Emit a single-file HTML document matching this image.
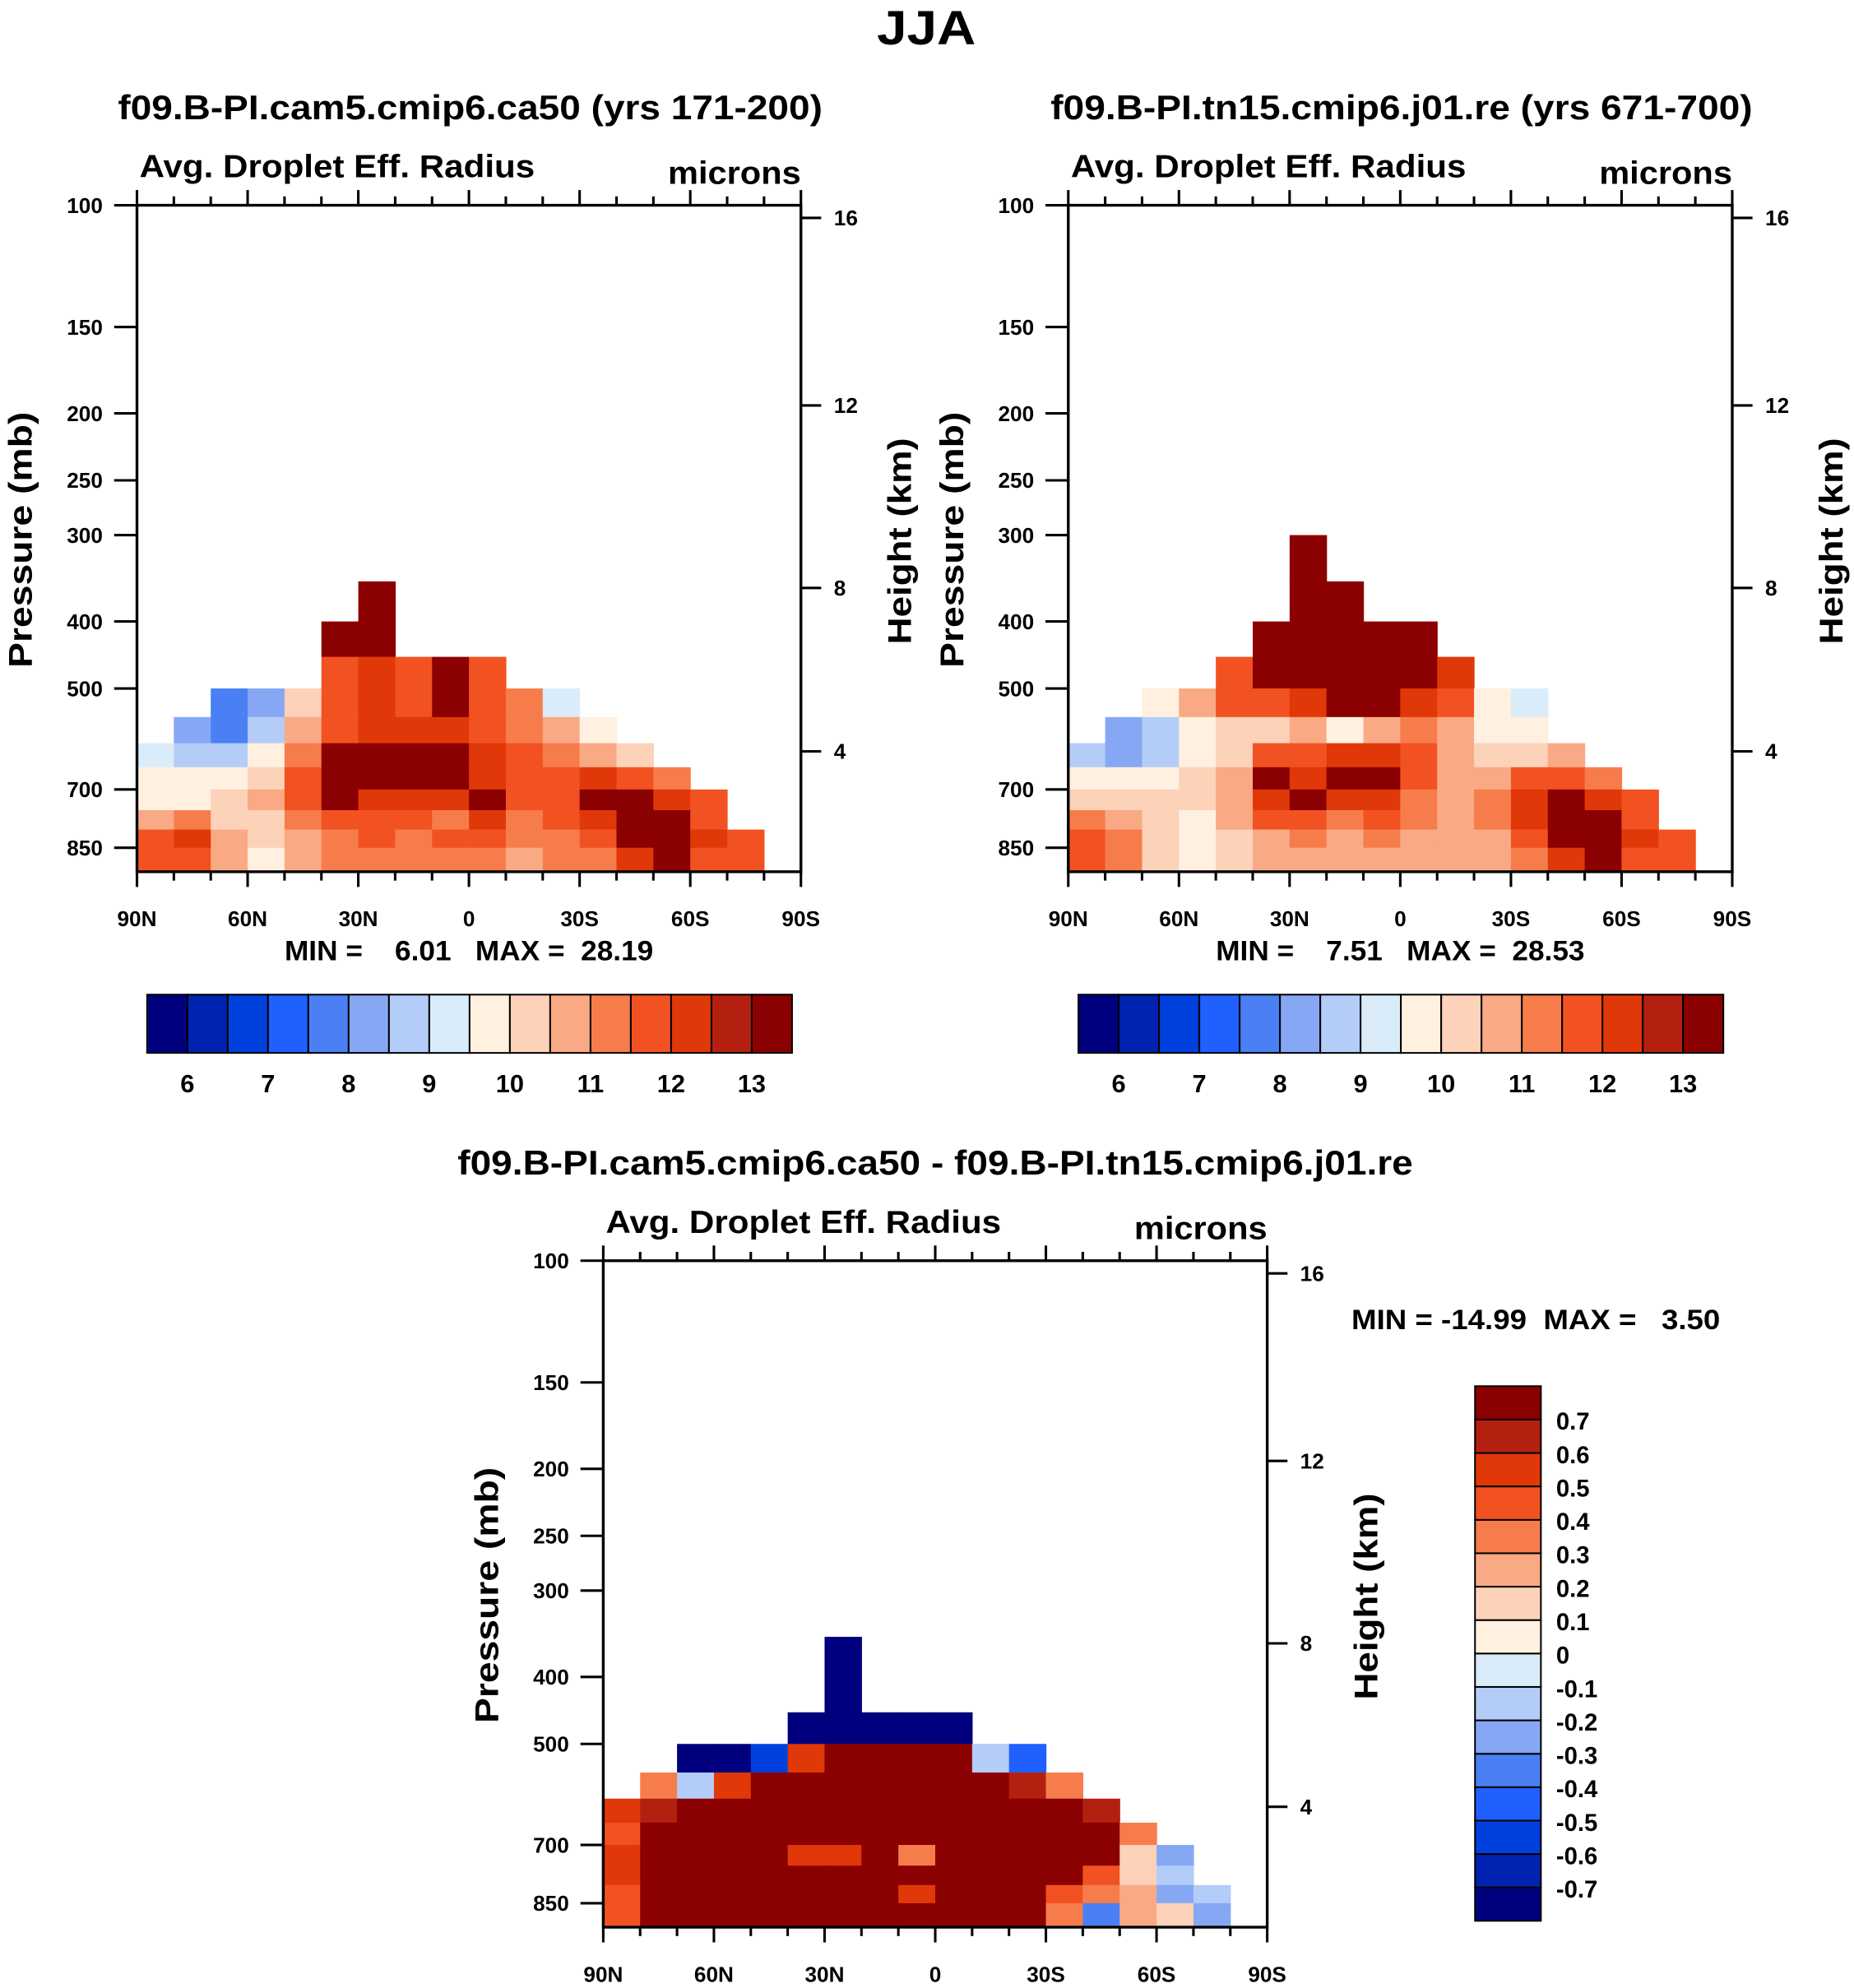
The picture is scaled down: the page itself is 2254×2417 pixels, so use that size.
<!DOCTYPE html>
<html><head><meta charset="utf-8"><style>
html,body{margin:0;padding:0;background:#fff}
svg{display:block}
text{font-family:"Liberation Sans",Arial,sans-serif;font-weight:bold;fill:#000;white-space:pre}
</style></head>
<body>
<svg id="fig" width="2254" height="2417" viewBox="0 0 1463 1569" xmlns="http://www.w3.org/2000/svg">
<rect width="1463" height="1569" fill="#fff"/>
<text x="731" y="35" font-size="38" text-anchor="middle" textLength="78" lengthAdjust="spacingAndGlyphs">JJA</text>
</svg>
<script>
// ---- data ----
const pressureEdges = [300,350,400,450,500,550,600,650,700,750,800,850,922];
const latEdges = [90,80,70,60,50,40,30,20,10,0,-10,-20,-30,-40,-50,-60,-70,-80,-90];
const pressureTicks = [100,150,200,250,300,400,500,700,850];
const heightTicks = [16,12,8,4];
const heightTickY = [172,320,464,593];
const latTicks = [90,60,30,0,-30,-60,-90];
const latTickLabels = ["90N","60N","30N","0","30S","60S","90S"];
const absLevelLabels = ["6","7","8","9","10","11","12","13"];
const absLevels = [6,6.5,7,7.5,8,8.5,9,9.5,10,10.5,11,11.5,12,12.5,13];
const diffLevels = [-0.7,-0.6,-0.5,-0.4,-0.3,-0.2,-0.1,0,0.1,0.2,0.3,0.4,0.5,0.6,0.7];
const diffLevelLabels = ["-0.7","-0.6","-0.5","-0.4","-0.3","-0.2","-0.1","0","0.1","0.2","0.3","0.4","0.5","0.6","0.7"];
const palette = ["#00007f","#0022b0","#0040dc","#2060ff","#4a80f4","#86a8f4","#b4ccf8","#daecfa","#fff0e0","#fcd2b8","#f9aa84","#f77c4c","#f25222","#e03808","#b42010","#8b0000"];
const N=null;
const field1 = [
[N,N,N,N,N,N,N,N,N,N,N,N,N,N,N,N,N,N],
[N,N,N,N,N,N,13.5,N,N,N,N,N,N,N,N,N,N,N],
[N,N,N,N,N,13.5,13.5,N,N,N,N,N,N,N,N,N,N,N],
[N,N,N,N,N,11.7,12.2,11.7,13.5,11.7,N,N,N,N,N,N,N,N],
[N,N,7.7,8.2,10.2,11.7,12.2,11.7,13.5,11.7,11.2,9.2,N,N,N,N,N,N],
[N,8.2,7.7,8.7,10.7,11.7,12.2,12.2,12.2,11.7,11.2,10.7,9.7,N,N,N,N,N],
[9.2,8.7,8.7,9.7,11.2,13.5,13.5,13.5,13.5,12.2,11.7,11.2,10.7,10.2,N,N,N,N],
[9.7,9.7,9.7,10.2,11.7,13.5,13.5,13.5,13.5,12.2,11.7,11.7,12.2,11.7,11.2,N,N,N],
[9.7,9.7,10.2,10.7,11.7,13.5,12.2,12.2,12.2,13.5,11.7,11.7,13.5,13.5,12.2,11.7,N,N],
[10.7,11.2,10.2,10.2,11.2,11.7,11.7,11.7,11.2,12.2,11.2,11.7,12.2,13.5,13.5,11.7,N,N],
[11.7,12.2,10.7,10.2,10.7,11.2,11.7,11.2,11.7,11.7,11.2,11.2,11.7,13.5,13.5,12.2,11.7,N],
[11.7,11.7,10.7,9.7,10.7,11.2,11.2,11.2,11.2,11.2,10.7,11.2,11.2,12.2,13.5,11.7,11.7,N]
];
const field2 = [
[N,N,N,N,N,N,13.5,N,N,N,N,N,N,N,N,N,N,N],
[N,N,N,N,N,N,13.5,13.5,N,N,N,N,N,N,N,N,N,N],
[N,N,N,N,N,13.5,13.5,13.5,13.5,13.5,N,N,N,N,N,N,N,N],
[N,N,N,N,11.7,13.5,13.5,13.5,13.5,13.5,12.2,N,N,N,N,N,N,N],
[N,N,9.7,10.7,11.7,11.7,12.2,13.5,13.5,12.2,11.7,9.7,9.2,N,N,N,N,N],
[N,8.2,8.7,9.7,10.2,10.2,10.7,9.7,10.7,11.2,10.7,9.7,9.7,N,N,N,N,N],
[8.7,8.2,8.7,9.7,10.2,11.7,11.7,12.2,12.2,11.7,10.7,10.2,10.2,10.7,N,N,N,N],
[9.7,9.7,9.7,10.2,10.7,13.5,12.2,13.5,13.5,11.7,10.7,10.7,11.7,11.7,11.2,N,N,N],
[10.2,10.2,10.2,10.2,10.7,12.2,13.5,12.2,12.2,11.2,10.7,11.2,12.2,13.5,12.2,11.7,N,N],
[11.2,10.7,10.2,9.7,10.7,11.7,11.7,11.2,11.7,11.2,10.7,11.2,12.2,13.5,13.5,11.7,N,N],
[11.7,11.2,10.2,9.7,10.2,10.7,11.2,10.7,11.2,10.7,10.7,10.7,11.7,13.5,13.5,12.2,11.7,N],
[11.7,11.2,10.2,9.7,10.2,10.7,10.7,10.7,10.7,10.7,10.7,10.7,11.2,12.2,13.5,11.7,11.7,N]
];
const field3 = [
[N,N,N,N,N,N,N,N,N,N,N,N,N,N,N,N,N,N],
[N,N,N,N,N,N,-1,N,N,N,N,N,N,N,N,N,N,N],
[N,N,N,N,N,N,-1,N,N,N,N,N,N,N,N,N,N,N],
[N,N,N,N,N,-1,-1,-1,-1,-1,N,N,N,N,N,N,N,N],
[N,N,-1,-1,-0.6,0.5,0.8,1,1,0.8,-0.2,-0.5,N,N,N,N,N,N],
[N,0.3,-0.2,0.5,1,1,1,1,1,1,1,0.6,0.3,N,N,N,N,N],
[0.5,0.6,0.8,1,1,1,1,1,1,1,1,1,1,0.6,N,N,N,N],
[0.4,0.7,1,1,1,1,1,1,1,1,1,1,1,1,0.3,N,N,N],
[0.5,0.8,1,1,0.8,0.5,0.5,1,0.3,0.8,1,1,1,0.7,0.1,-0.3,N,N],
[0.5,0.8,1,0.8,0.7,1,0.7,0.8,0.8,0.7,1,1,0.7,0.4,0.1,-0.2,N,N],
[0.4,0.8,1,0.7,0.7,1,0.8,0.7,0.5,0.8,0.8,1,0.4,0.3,0.2,-0.3,-0.2,N],
[0.4,0.8,1,0.8,0.7,1,0.8,0.7,0.8,0.7,0.8,0.7,0.3,-0.4,0.2,0.1,-0.3,N]
];
// ---- drawing ----
const svg=document.getElementById('fig');
const NS="http://www.w3.org/2000/svg";
function mk(tag,attrs,parent){const e=document.createElementNS(NS,tag);for(const k in attrs)e.setAttribute(k,attrs[k]);(parent||svg).appendChild(e);return e;}
function txt(x,y,s,size,anchor,parent,len){const a={x:x,y:y,'font-size':size,'text-anchor':anchor||'middle'};if(len){a.textLength=len;a.lengthAdjust='spacingAndGlyphs';}const t=mk('text',a,parent);t.textContent=s;return t;}
function colorIndex(v,levels){let i=0;for(const l of levels){if(v>=l-1e-9)i++;}return i;}

function panel(ox,oy,field,levels,name){
  const W=524,H=526,top=oy,left=ox;
  const xs=lat=>left+(90-lat)/180*W;
  const ys=p=>top+Math.log10(p/100)*545.6;
  const g=mk('g',{});
  
  
  for(let r=0;r<field.length;r++){for(let c=0;c<field[r].length;c++){
    const v=field[r][c]; if(v===null) continue;
    const x0=xs(latEdges[c]),x1=xs(latEdges[c+1]),y0=ys(pressureEdges[r]),y1=Math.min(ys(pressureEdges[r+1]),top+H);
    const rc=mk('rect',{x:x0,y:y0,width:x1-x0+0.4,height:y1-y0+0.4,fill:palette[colorIndex(v,levels)]},g);
    
    
  }}
  const box=mk('rect',{x:left,y:top,width:W,height:H,fill:'none',stroke:'#000','stroke-width':2.2},g);
  
  
  pressureTicks.forEach(p=>{const y=ys(p);
    mk('line',{x1:left-18,x2:left,y1:y,y2:y,stroke:'#000','stroke-width':2},g);
    const t=txt(left-27,y+6,String(p),17,'end',g);
    
    
  });
  heightTicks.forEach((h,i)=>{const y=top+heightTickY[i]-162;
    mk('line',{x1:left+W,x2:left+W+16,y1:y,y2:y,stroke:'#000','stroke-width':2},g);
    const t=txt(left+W+26,y+6,String(h),17,'start',g);
    
    
  });
  for(let lat=90;lat>=-90;lat-=10){const x=xs(lat);const major=lat%30===0;
    mk('line',{x1:x,x2:x,y1:top,y2:top-(major?12:7),stroke:'#000','stroke-width':2},g);
    mk('line',{x1:x,x2:x,y1:top+H,y2:top+H+(major?12:7),stroke:'#000','stroke-width':2},g);
  }
  latTicks.forEach((lat,i)=>{const t=txt(xs(lat),top+H+43,latTickLabels[i],17,'middle',g);
    
    });
  const a=txt(left+2,top-22,'Avg. Droplet Eff. Radius',25,'start',g,312);
  
  
  const m=txt(left+W,top-17,'microns',25,'end',g,105);
  
  
  const py=mk('text',{x:0,y:0,'font-size':26,'text-anchor':'middle',textLength:202,lengthAdjust:'spacingAndGlyphs',transform:`translate(${left-83},${top+264}) rotate(-90)`},g);
  py.textContent='Pressure (mb)';
  
  
  const hy=mk('text',{x:0,y:0,'font-size':26,'text-anchor':'middle',textLength:163,lengthAdjust:'spacingAndGlyphs',transform:`translate(${left+W+87},${top+265}) rotate(-90)`},g);
  hy.textContent='Height (km)';
  
  
}
function hbar(x,y,name){
  const g=mk('g',{});
  
  
  const bw=509/16;
  palette.forEach((c,i)=>{const r=mk('rect',{x:x+i*bw,y:y,width:bw,height:46,fill:c,stroke:'#000','stroke-width':1.3},g);
    
    });
  absLevelLabels.forEach((s,i)=>{const t=txt(x+(1+2*i)*bw,y+77,s,20,'middle',g);
    
    });
}
function vbar(x,y){
  const g=mk('g',{});
  
  
  const bh=422/16;
  palette.forEach((c,i)=>{const r=mk('rect',{x:x,y:y+(15-i)*bh,width:52,height:bh,fill:c,stroke:'#000','stroke-width':1.3},g);
    
    });
  diffLevelLabels.forEach((s,i)=>{const t=txt(x+64,y+(15-i)*bh+8,s,19,'start',g);
    
    });
}
let t;
t=txt(371,94,'f09.B-PI.cam5.cmip6.ca50 (yrs 171-200)',27,'middle',svg,556);


t=txt(1106,94,'f09.B-PI.tn15.cmip6.j01.re (yrs 671-700)',27,'middle',svg,554);


t=txt(738,927,'f09.B-PI.cam5.cmip6.ca50 - f09.B-PI.tn15.cmip6.j01.re',27,'middle',svg,754);


panel(108,162,field1,absLevels,'panel-ca50');
panel(843,162,field2,absLevels,'panel-tn15');
panel(476,995,field3,diffLevels,'panel-difference');
t=txt(370,758,'MIN =    6.01   MAX =  28.19',22,'middle',svg,291);


t=txt(1105,758,'MIN =    7.51   MAX =  28.53',22,'middle',svg,291);


t=txt(1212,1049,'MIN = -14.99  MAX =   3.50',22,'middle',svg,291);


hbar(116,785,'panel1-colorbar');
hbar(851,785,'panel2-colorbar');
vbar(1164,1094);
</script>
</body></html>
